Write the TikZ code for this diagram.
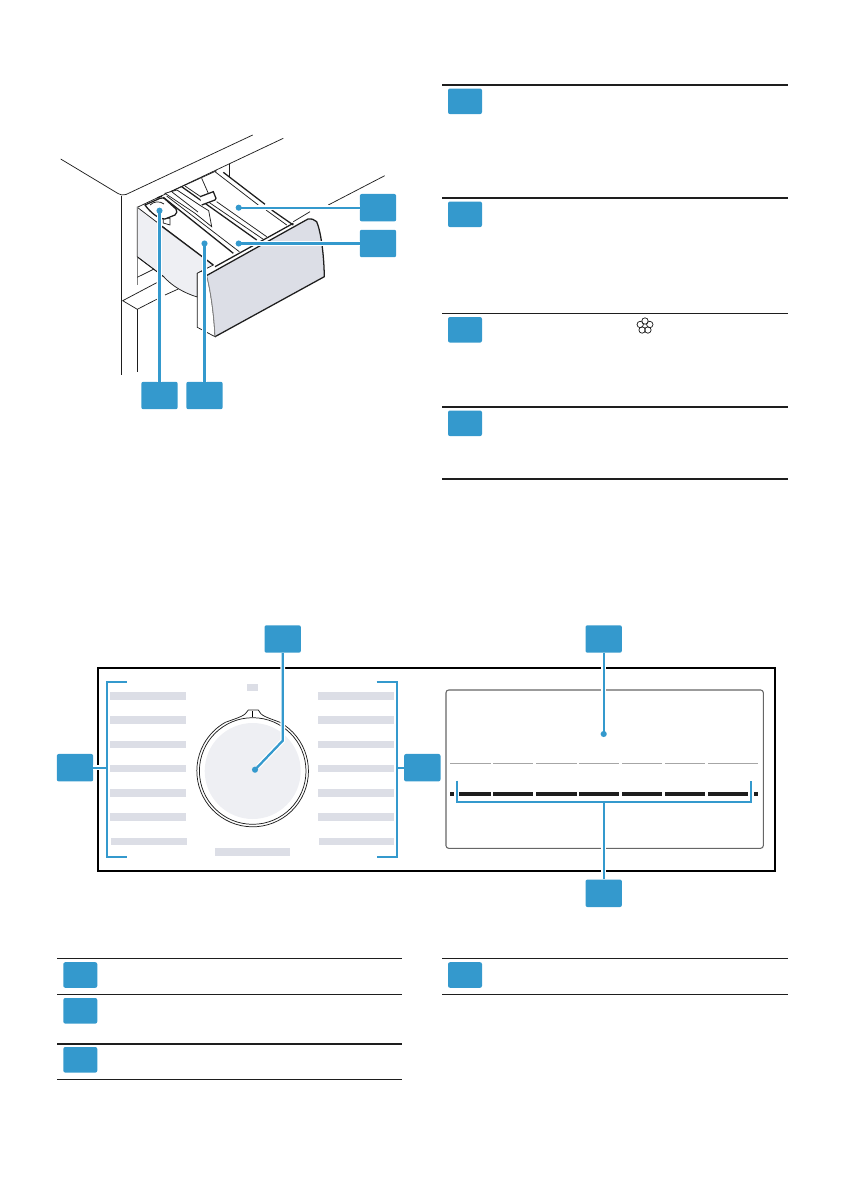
\documentclass[tikz,border=0pt]{standalone}
\definecolor{marker}{RGB}{52,153,205}
\definecolor{barfill}{RGB}{220,222,230}
\definecolor{softfill}{RGB}{238,239,243}
\definecolor{inkline}{RGB}{30,30,30}
\tikzset{
  badge/.style={fill=marker,rounded corners=1.5pt,minimum width=27.3pt,minimum height=20.6pt,inner sep=0pt},
  keybadge/.style={fill=marker,rounded corners=1.5pt,minimum width=25.5pt,minimum height=19.2pt,inner sep=0pt},
  tipdot/.style={circle,fill=marker,minimum size=4.6pt,inner sep=0pt},
  leader/.style={draw=marker,line width=1.7pt,preaction={draw=white,line width=3.6pt,shorten >=3.5pt}},
  bracket/.style={draw=marker,line width=1.4pt},
  art/.style={draw=inkline,line width=0.55pt},
  artthick/.style={draw=inkline,line width=0.95pt},
  heavyrule/.style={draw=inkline,line width=1.5pt},
  thinrule/.style={draw=inkline,line width=0.95pt},
  greybar/.style={fill=barfill},
}
\begin{document}
\begin{tikzpicture}[x=0.75pt,y=0.75pt,yscale=-1,xscale=1]
\useasboundingbox (0,0) rectangle (840,1192);

%Cabinet
\draw [art] (60.7,159) -- (118,193.5) .. controls (120,195) and (123,195.5) .. (126,194.5) -- (252.7,135) ;
\draw [art] (121.3,196) -- (121.3,375) ;
\draw [art] (137.3,207.3) -- (283.3,138.3) ;
\draw [art] (229.3,164) -- (229.3,177.3) ;
\draw [art] (384.7,175.7) -- (328.3,205) ;
\draw [art] (310,211.7) -- (293.3,221.7) ;
%Shelf under the drawer
\draw [art] (156.7,282.7) -- (122.7,300.7) -- (137.3,309.3) -- (156.7,299.3) ;
\draw [art] (165,295) -- (178.3,289) ;
\draw [art] (137.3,309.3) -- (137.3,372) ;
%Drawer side
\draw [art,fill=softfill] (137.3,207.3) -- (137.3,257) -- (163.7,276.7) .. controls (172,286) and (184,293) .. (197.3,297) -- (197.3,273.3) -- (213.3,265) -- cycle ;
\draw [draw=gray,line width=1pt] (137.3,207.3) -- (137.3,285) ;
\draw [art] (137.3,277.3) -- (154,269) ;
\draw [art] (137.3,256.7) -- (163.7,276.7) ;
\draw [artthick] (162.3,226.7) -- (213.3,265) ;
%Drawer inside
\draw [art] (216.7,170.7) -- (170,192) ;
\draw [artthick] (223.3,172.3) -- (265,204.3) ;
\draw [artthick] (271.7,210) -- (293.3,225) ;
\draw [art] (215,171.7) -- (258.3,205) ;
\draw [art] (266,210) -- (286.7,225) ;
\draw [artthick] (181.7,186.7) -- (256.7,240) ;
\draw [art] (185,186) -- (263.3,239.3) ;
\draw [artthick] (163.3,197.3) -- (233.3,253.3) ;
\draw [art] (166.7,196) -- (239.3,251.7) ;
\draw [art] (216.7,201.7) -- (266.7,236.7) ;
%Softener part
\draw [art] (201.7,178.3) -- (208.3,193.3) ;
\draw [artthick,fill=white] (200,196.7) -- (213.3,191.7) -- (216,198.3) -- (215,200) -- (201.7,205) ;
\draw [art,fill=white] (165,193.3) -- (195,213.3) -- (211.7,226.7) -- (208.7,210.7) -- (201,206) -- (177,190) -- cycle ;
\draw [art] (172,192) -- (198,212) ;
%Cap
\draw [art,fill=white] (163.3,218.3) -- (170,218.3) -- (170,225) -- (163.3,223) -- cycle ;
\draw [artthick,fill=white] (145,205) -- (160,198.3) .. controls (162,197.5) and (164,198) .. (165,199) -- (176,209) .. controls (177.5,211) and (177,213.5) .. (175,215) -- (165,219) .. controls (158,219) and (150,212) .. (145,205) -- cycle ;
\draw [art] (150,205) .. controls (154,201) and (160,201) .. (164,204) ;
\draw [artthick] (157,198) -- (162,196) ;
%Drawer front
\draw [art,fill=white] (197.3,273.3) -- (201.7,271) -- (206.7,275) .. controls (211,293) and (214,315) .. (215,336.7) -- (197.3,327.3) -- cycle ;
\draw [artthick] (215,266.7) -- (293.3,223.3) ;
\draw [fill=barfill,draw=none] (206.7,275.5) -- (308,219) .. controls (311,218) and (314,219.5) .. (316.7,221.7) .. controls (321,232) and (324,255) .. (324.3,276.7) -- (215,336.7) .. controls (214,315) and (211,293) .. (206.7,275.5) -- cycle ;
\draw [artthick] (201.7,271) -- (206.7,275.5) -- (308,219) .. controls (311,218) and (314,219.5) .. (316.7,221.7) .. controls (321,232) and (324,255) .. (324.3,276.7) -- (215,336.7) ;
\draw [draw=gray,line width=0.6pt] (206.7,275.5) .. controls (211,293) and (214,315) .. (215,336.7) ;

%Drawer markers
\node [tipdot] (dotrear) at (238.7,207.7) {};
\node [tipdot] (dotmain) at (238.7,243.5) {};
\node [tipdot] (dotprewash) at (204.5,243.5) {};
\node [tipdot] (dotcap) at (159.5,210.7) {};
\node [badge] (badgerear) at (378,207.7) {};
\node [badge] (badgemain) at (378,243.5) {};
\node [badge] (badgecap) at (159.5,395.5) {};
\node [badge] (badgeprewash) at (204.5,395.5) {};
\draw [leader] (badgerear.west) -- (dotrear.center) ;
\draw [leader] (badgemain.west) -- (dotmain.center) ;
\draw [leader] (badgecap.north) -- (dotcap.center) ;
\draw [leader] (badgeprewash.north) -- (dotprewash.center) ;

%Upper key
\draw [heavyrule] (442,85) -- (788,85) ;
\draw [heavyrule] (442,197.7) -- (788,197.7) ;
\draw [thinrule] (442,313.3) -- (788,313.3) ;
\draw [heavyrule] (442,407) -- (788,407) ;
\draw [heavyrule] (442,478.7) -- (788,478.7) ;
\node [keybadge] (keyone) at (465,101.3) {};
\node [keybadge] (keytwo) at (465,214.3) {};
\node [keybadge] (keythree) at (465,329.8) {};
\node [keybadge] (keyfour) at (465,423.3) {};
%Flower symbol
\draw [art] (645,321) circle [radius=3.2] ;
\draw [art] (649.8,324.5) circle [radius=3.2] ;
\draw [art] (647.9,330) circle [radius=3.2] ;
\draw [art] (642.1,330) circle [radius=3.2] ;
\draw [art] (640.2,324.5) circle [radius=3.2] ;

%Panel
\draw [line width=1.6pt] (97.7,667.7) rectangle (775.3,870.7) ;
%Left bars
\fill [greybar] (110,692) rectangle (186,700) ;
\fill [greybar] (110,716) rectangle (186,724) ;
\fill [greybar] (110,741) rectangle (186,748) ;
\fill [greybar] (110,765) rectangle (186,772) ;
\fill [greybar] (110,789) rectangle (186,797) ;
\fill [greybar] (110,813) rectangle (186,821) ;
\fill [greybar] (111,838) rectangle (187,845) ;
%Right bars
\fill [greybar] (318,692) rectangle (394,700) ;
\fill [greybar] (318,716) rectangle (394,724) ;
\fill [greybar] (318,741) rectangle (394,748) ;
\fill [greybar] (318,765) rectangle (394,772) ;
\fill [greybar] (318,789) rectangle (394,797) ;
\fill [greybar] (318,813) rectangle (394,821) ;
\fill [greybar] (319,838) rectangle (394,845) ;
%Middle bars
\fill [greybar] (247,684) rectangle (258,691) ;
\fill [greybar] (215,848) rectangle (290,856) ;
%Dial
\fill [softfill] (252.7,771) circle [radius=48] ;
\draw [art] (252.7,771) circle [radius=53.3] ;
\draw [art] (279.7,722.2) arc [start angle=-61,end angle=241,radius=55.8] ;
\draw [art] (225.7,722.2) .. controls (240,717) and (245,716) .. (248.3,710) -- (258.3,710) .. controls (261,716) and (266,717) .. (279.7,722.2) ;
\draw [line width=1.1pt] (252.7,711) -- (252.7,717) ;

%Display
\draw [draw=gray!80!black,line width=0.8pt,rounded corners=2pt] (446,690) rectangle (763.3,848.3) ;
%Thin segments
\draw [draw=gray!70,line width=0.8pt] (450,763.7) -- (490.7,763.7) ;
\draw [draw=gray!70,line width=0.8pt] (493.3,763.7) -- (533.3,763.7) ;
\draw [draw=gray!70,line width=0.8pt] (536,763.7) -- (576.7,763.7) ;
\draw [draw=gray!70,line width=0.8pt] (579,763.7) -- (619,763.7) ;
\draw [draw=gray!70,line width=0.8pt] (622,763.7) -- (662,763.7) ;
\draw [draw=gray!70,line width=0.8pt] (665,763.7) -- (705,763.7) ;
\draw [draw=gray!70,line width=0.8pt] (708,763.7) -- (758.3,763.7) ;
%Black segments
\fill [inkline] (450.3,792) rectangle (454,796) ;
\fill [inkline] (459,792) rectangle (490.7,796) ;
\fill [inkline] (493.3,792) rectangle (533.3,796) ;
\fill [inkline] (536,792) rectangle (576.7,796) ;
\fill [inkline] (579,792) rectangle (619.3,796) ;
\fill [inkline] (622,792) rectangle (662,796) ;
\fill [inkline] (665,792) rectangle (705,796) ;
\fill [inkline] (708,792) rectangle (748.3,796) ;
\fill [inkline] (754.3,792) rectangle (758.3,796) ;

%Panel markers
\node [badge] (badgedial) at (282.7,639) {};
\node [tipdot] (dotdial) at (255,769.7) {};
\coordinate (benddial) at (282.7,740.7) ;
\draw [leader] (badgedial.south) -- (benddial) -- (dotdial.center) ;
\node [badge] (badgedisplay) at (603.7,639) {};
\node [tipdot] (dotdisplay) at (603.7,734) {};
\draw [leader] (badgedisplay.south) -- (dotdisplay.center) ;
\node [badge] (badgeleft) at (75,767.7) {};
\node [badge] (badgeright) at (422.3,767.7) {};
\node [badge] (badgesegments) at (603.7,893.3) {};
\coordinate (bracketleft) at (107.3,767.7) ;
\coordinate (bracketright) at (397.3,767.7) ;
\coordinate (bracketsegments) at (603.7,802) ;
\draw [leader] (badgeleft.east) -- (bracketleft) ;
\draw [leader] (badgeright.west) -- (bracketright) ;
\draw [leader] (badgesegments.north) -- (bracketsegments) ;
\draw [bracket] (126.7,681.7) -- (107.3,681.7) -- (107.3,857.3) -- (126.7,857.3) ;
\draw [bracket] (376.7,681.7) -- (397.3,681.7) -- (397.3,857.3) -- (376.7,857.3) ;
\draw [bracket] (456.7,780.7) -- (456.7,802) -- (751,802) -- (751,780.7) ;

%Lower key
\draw [thinrule] (57,958.3) -- (402,958.3) ;
\draw [thinrule] (57,994.3) -- (402,994.3) ;
\draw [heavyrule] (57,1044) -- (402,1044) ;
\draw [thinrule] (57,1079.3) -- (402,1079.3) ;
\draw [thinrule] (442,958.3) -- (788,958.3) ;
\draw [thinrule] (442,994.3) -- (788,994.3) ;
\node [keybadge] (keyfive) at (80.3,975) {};
\node [keybadge] (keysix) at (80.3,1010.8) {};
\node [keybadge] (keyseven) at (80.3,1059.8) {};
\node [keybadge] (keyeight) at (465,975) {};

\end{tikzpicture}
\end{document}
